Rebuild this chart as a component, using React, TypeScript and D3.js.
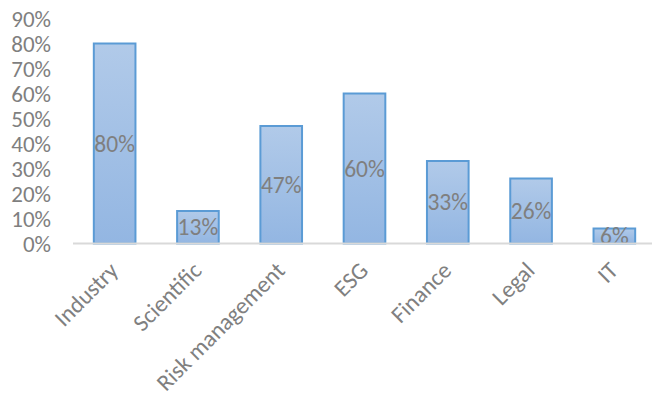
import React from "react";
import * as d3 from "d3";

const categories = ["Industry", "Scientific", "Risk management", "ESG", "Finance", "Legal", "IT"];
const values = [80, 13, 47, 60, 33, 26, 6];
const yTicks = [0, 10, 20, 30, 40, 50, 60, 70, 80, 90];

export default function App() {
  const W = 652, H = 396;
  const x = d3.scaleBand<string>().domain(categories).range([73, 656]).paddingInner(0.5).paddingOuter(0.25);
  const y = d3.scaleLinear().domain([0, 90]).range([243.5, 18.5]);
  const font = "Calibri, Carlito, 'Liberation Sans', Arial, sans-serif";
  return (
    <svg width={W} height={H} style={{ position: "absolute", left: 0, top: 0 }} fontFamily={font}>
      <defs>
        <linearGradient id="barGrad" x1="0" y1="0" x2="0" y2="1">
          <stop offset="0%" stopColor="#b1cae9" />
          <stop offset="100%" stopColor="#93b6e2" />
        </linearGradient>
      </defs>
      <rect width={W} height={H} fill="#fff" />
      {yTicks.map((t) => (
        <text key={t} x={51} y={y(t)} dy="0.35em" textAnchor="end" fontSize={23} fill="#7f7f7f">
          {t}%
        </text>
      ))}
      {categories.map((c, i) => (
        <g key={c}>
          <rect
            x={x(c)!}
            y={y(values[i])}
            width={x.bandwidth()}
            height={y(0) - y(values[i])}
            fill="url(#barGrad)"
            stroke="#5b9bd5"
            strokeWidth={2}
          />
          <text
            x={x(c)! + x.bandwidth() / 2}
            y={(y(values[i]) + y(0)) / 2}
            dy="0.35em"
            textAnchor="middle"
            fontSize={23.5}
            fill="#7f7f7f"
          >
            {values[i]}%
          </text>
        </g>
      ))}
      <line x1={73} x2={W} y1={y(0)} y2={y(0)} stroke="#d9d9d9" strokeWidth={2} />
      {categories.map((c) => (
        <text
          key={c + "l"}
          transform={`translate(${x(c)! + x.bandwidth() / 2 + 5},${272}) rotate(-45)`}
          textAnchor="end"
          fontSize={23.5}
          fill="#808080"
        >
          {c}
        </text>
      ))}
    </svg>
  );
}
